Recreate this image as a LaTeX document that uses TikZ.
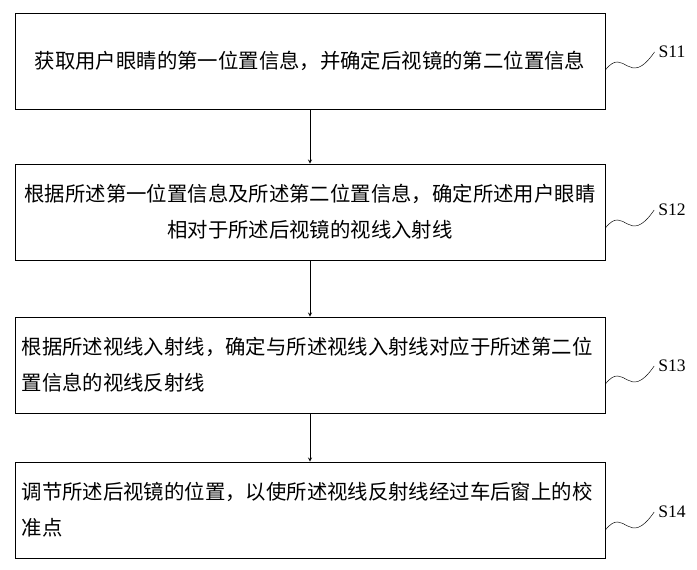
\documentclass[tikz,border=0pt]{standalone}
\usepackage{fontspec}
\setmainfont{Liberation Serif}
\newfontfamily\cjk{Noto Sans CJK SC}
\usetikzlibrary{positioning}
\begin{document}
\begin{tikzpicture}[x=0.03cm,y=-0.03cm,
    stepbox/.style={rectangle, draw, line width=0.6pt, minimum width=17.7cm, minimum height=2.88cm, text width=17.3cm, align=center, font=\cjk\fontsize{17.4}{31}\selectfont, inner sep=0pt},
    steplabel/.style={font=\fontsize{15}{17}\selectfont},
    arrow/.style={->, >=stealth, line width=0.6pt}
]
    \useasboundingbox (0,0) rectangle (697,570);
    % Steps
    \node[stepbox] (s11) at (310,61) {获取用户眼睛的第一位置信息，并确定后视镜的第二位置信息};
    \node[stepbox] (s12) at (310,212) {根据所述第一位置信息及所述第二位置信息，确定所述用户眼睛\\相对于所述后视镜的视线入射线};
    \node[stepbox, align=left] (s13) at (310,365) {根据所述视线入射线，确定与所述视线入射线对应于所述第二位\\置信息的视线反射线};
    \node[stepbox, align=left] (s14) at (310,510) {调节所述后视镜的位置，以使所述视线反射线经过车后窗上的校\\准点};
    % Arrows
    \draw[arrow] (s11) -- (s12);
    \draw[arrow] (s12) -- (s13);
    \draw[arrow] (s13) -- (s14);
    % Labels
    \node[steplabel] (l11) at (672,52) {S11};
    \node[steplabel] (l12) at (672,210) {S12};
    \node[steplabel] (l13) at (672,366) {S13};
    \node[steplabel] (l14) at (672,512) {S14};
    \draw (s11.east |- 0,70) .. controls (625,45) and (628,90) .. (l11.west);
    \draw (s12.east |- 0,228) .. controls (625,203) and (628,248) .. (l12.west);
    \draw (s13.east |- 0,384) .. controls (625,359) and (628,404) .. (l13.west);
    \draw (s14.east |- 0,530) .. controls (625,505) and (628,550) .. (l14.west);
\end{tikzpicture}
\end{document}
